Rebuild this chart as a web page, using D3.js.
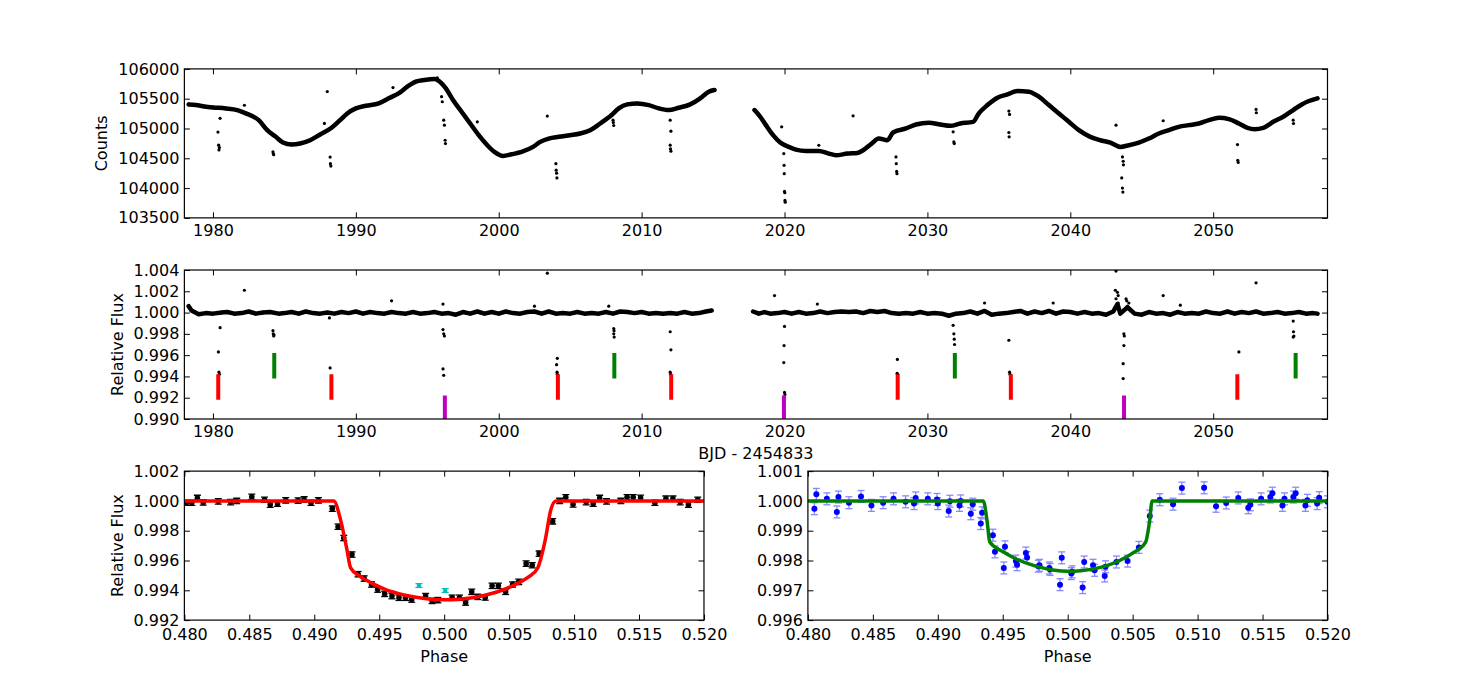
<!DOCTYPE html>
<html>
<head>
<meta charset="utf-8">
<script src="https://cdn.jsdelivr.net/npm/d3@7"></script>
<style>
  body { margin: 0; background: #fff; }
  svg { display: block; }
</style>
</head>
<body>
<div id="chart"></div>
<script>
// ---- data ----
// raw light curve (trend samples, [BJD-2454833, counts])
const countsSeg1 = [[1978.3,105404],[1978.8,105393],[1979.4,105370],[1980.0,105354],[1980.9,105337],[1981.7,105309],[1982.3,105253],
  [1983.2,105140],[1983.8,104972],[1984.4,104860],[1984.9,104764],[1985.5,104730],[1986.1,104747],[1986.8,104803],[1987.5,104899],
  [1988.3,105011],[1988.9,105140],[1989.4,105253],[1990.0,105337],[1990.7,105382],[1991.6,105421],[1992.3,105506],[1993.1,105607],
  [1993.6,105702],[1994.2,105787],[1994.8,105815],[1995.5,105831],[1996.0,105758],[1996.3,105674],[1996.8,105477],[1997.4,105281],
  [1998.0,105084],[1998.6,104888],[1999.2,104719],[1999.7,104607],[2000.3,104539],[2000.9,104567],[2001.6,104607],[2002.4,104691],
  [2002.9,104775],[2003.5,104831],[2004.2,104860],[2005.0,104888],[2005.7,104916],[2006.4,104972],[2007.1,105084],[2007.9,105225],
  [2008.4,105337],[2009.0,105404],[2009.7,105421],[2010.5,105393],[2011.2,105337],[2011.9,105309],[2012.6,105348],[2013.4,105404],
  [2014.1,105506],[2014.7,105618],[2015.1,105646]];
const countsSeg2 = [[2017.9,105309],[2018.3,105197],[2018.7,105056],[2019.2,104888],[2019.7,104764],[2020.3,104691],[2020.8,104646],
  [2021.5,104624],[2022.4,104624],[2023.1,104579],[2023.6,104551],[2024.4,104579],[2025.1,104590],[2025.5,104635],[2026.1,104747],
  [2026.6,104831],[2027.2,104803],[2027.6,104933],[2028.5,105000],[2029.2,105067],[2030.1,105096],[2030.9,105067],[2031.6,105045],
  [2032.3,105084],[2033.2,105112],[2033.6,105253],[2034.2,105393],[2034.9,105517],[2035.6,105573],[2036.3,105629],[2037.1,105618],
  [2037.8,105534],[2038.5,105393],[2039.2,105253],[2039.9,105112],[2040.6,104972],[2041.4,104860],[2042.1,104803],[2042.8,104764],
  [2043.5,104691],[2044.1,104719],[2044.8,104764],[2045.5,104831],[2046.2,104916],[2046.9,104972],[2047.6,105028],[2048.3,105056],
  [2049.0,105084],[2049.7,105140],[2050.4,105180],[2051.1,105157],[2051.8,105084],[2052.4,105011],[2052.9,104989],[2053.5,105011],
  [2054.2,105112],[2054.9,105197],[2055.6,105309],[2056.2,105404],[2056.7,105461],[2057.3,105506]];
// in-transit points and outliers of the raw light curve
const countsDips = [[1980.35,104940],[1980.4,104720],[1980.45,104680],[1980.42,104640],[1980.5,105170],[1982.2,105390],
  [1984.2,104610],[1984.22,104580],[1984.25,104560],[1988.0,105620],[1987.8,105085],[1988.2,104520],[1988.22,104410],[1988.25,104370],
  [1992.6,105686],[1995.7,105850],[1996.0,105534],[1996.05,105449],[1996.15,105140],[1996.2,105056],[1996.25,104803],[1996.27,104747],
  [1998.5,105112],[2003.4,105208],[2004.0,104410],[2004.02,104300],[2004.05,104250],[2004.07,104170],
  [2008.0,105140],[2008.02,105100],[2008.05,105050],[2012.0,105140],[2012.05,104955],[2012.0,104720],[2012.02,104660],[2012.05,104620],
  [2019.8,105028],[2019.95,104579],[2019.97,104382],[2019.98,104242],[2020.0,103944],[2020.02,103922],[2020.03,103792],[2020.05,103764],
  [2022.4,104719],[2024.8,105213],[2027.8,104523],[2027.82,104410],[2027.85,104280],[2027.87,104242],
  [2031.8,104944],[2031.85,104775],[2031.88,104747],[2035.7,105292],[2035.75,105236],[2035.7,104933],[2035.72,104860],
  [2043.2,105056],[2043.65,104523],[2043.7,104450],[2043.72,104390],[2043.6,104170],[2043.65,104000],[2043.68,103933],
  [2046.5,105130],[2051.7,104730],[2051.72,104466],[2051.75,104430],[2053.0,105320],[2053.02,105264],[2055.6,105140],[2055.62,105084]];

// detrended light curve ([BJD-2454833, relative flux])
const fluxSeg1 = [[1978.3,1.0006],[1978.5,1.0002],[1979.0,0.99985],[1979.5,0.99995],[1980.0,0.9999],[1980.6,1.0000],[1981.0,1.00005],
  [1981.5,0.9999],[1982.0,0.99995],[1982.5,1.0001],[1983.0,0.9999],[1983.5,1.0000],[1984.0,1.00005],[1984.6,0.9999],[1985.0,0.99995],
  [1985.5,1.00005],[1986.0,0.9999],[1986.5,1.0001],[1987.0,0.99995],[1987.5,0.9999],[1988.0,1.0000],[1988.5,0.9999],[1989.0,1.00005],
  [1989.5,0.99995],[1990.0,1.0001],[1990.5,0.9999],[1991.0,1.00005],[1991.5,0.99995],[1992.0,0.9999],[1992.5,1.00005],[1993.0,0.99995],
  [1993.5,0.9999],[1994.0,1.00005],[1994.5,0.9999],[1995.0,0.99995],[1995.5,1.00005],[1996.0,0.9999],[1996.5,0.99995],[1997.0,0.9998],
  [1997.5,1.00005],[1998.0,0.9999],[1998.5,1.0001],[1999.0,0.9999],[1999.5,1.00005],[2000.0,0.9999],[2000.5,1.0001],[2001.0,0.99995],
  [2001.5,0.9999],[2002.0,1.00005],[2002.5,1.0001],[2003.0,0.9999],[2003.5,1.0001],[2004.0,0.9999],[2004.5,0.99995],[2005.0,0.9999],
  [2005.5,1.00005],[2006.0,0.9999],[2006.5,0.99995],[2007.0,0.9999],[2007.5,1.00005],[2008.0,0.9999],[2008.5,1.0001],[2009.0,1.00005],
  [2009.5,0.99995],[2010.0,1.00005],[2010.5,0.9999],[2011.0,0.99995],[2011.5,0.9999],[2012.0,0.99995],[2012.5,0.9999],[2013.0,1.00005],
  [2013.5,0.9999],[2014.0,0.99995],[2014.5,1.0001],[2014.9,1.0002]];
const fluxSeg2 = [[2017.8,1.0001],[2018.2,0.9999],[2018.6,1.00005],[2019.0,0.9999],[2019.5,0.99995],[2020.0,1.00005],[2020.5,0.9999],
  [2021.0,1.00005],[2021.5,0.9999],[2022.0,0.99995],[2022.5,1.0001],[2023.0,0.99995],[2023.5,1.00005],[2024.0,1.0001],[2024.5,1.00005],
  [2025.0,1.0001],[2025.5,0.99995],[2026.0,1.00015],[2026.5,1.00005],[2027.0,1.00015],[2027.5,0.99995],[2028.0,0.9999],[2028.5,0.99995],
  [2029.0,0.9999],[2029.5,1.00005],[2030.0,0.9999],[2030.5,0.99995],[2031.0,0.9999],[2031.5,0.9997],[2032.0,0.9999],[2032.5,0.99995],
  [2033.0,1.0001],[2033.5,0.9999],[2034.0,1.00015],[2034.5,0.9998],[2035.0,0.9999],[2035.5,0.99995],[2036.0,1.00005],[2036.5,1.00015],
  [2037.0,0.9999],[2037.5,1.0001],[2038.0,0.99995],[2038.5,1.00015],[2039.0,0.9999],[2039.5,1.0001],[2040.0,1.00005],[2040.5,0.9999],
  [2041.0,1.00005],[2041.5,0.9999],[2042.0,0.99995],[2042.5,0.9998],[2043.0,1.0001],[2043.3,1.0008],[2043.5,0.9999],[2044.0,1.0005],
  [2044.5,0.9999],[2045.0,0.9998],[2045.5,1.00005],[2046.0,0.9999],[2046.5,0.99995],[2047.0,0.9998],[2047.5,1.00005],[2048.0,0.9999],
  [2048.5,0.99995],[2049.0,0.9999],[2049.5,1.0001],[2050.0,0.99995],[2050.5,0.9999],[2051.0,1.0001],[2051.5,0.9999],[2052.0,1.00005],
  [2052.5,0.99995],[2053.0,1.0001],[2053.5,0.9999],[2054.0,0.99995],[2054.5,1.00005],[2055.0,0.9999],[2055.5,0.99995],[2056.0,1.00005],
  [2056.5,0.9999],[2057.0,0.99995],[2057.3,0.9999]];
const fluxDips = [[1980.5,0.99858],[1980.38,0.9963],[1980.42,0.9944],[1980.45,0.9942],[1982.2,1.0021],
  [1984.2,0.9983],[1984.22,0.9980],[1984.25,0.9978],[1984.27,0.9979],[1988.2,0.9948],[1988.15,0.9995],[1992.5,1.0011],
  [1996.1,1.0008],[1996.1,0.9984],[1996.15,0.9980],[1996.2,0.9978],[1996.1,0.9947],[1996.15,0.9941],[2002.5,1.0006],[2003.4,1.0037],
  [2004.1,0.9957],[2004.05,0.9951],[2004.08,0.9944],[2004.1,0.9942],[2007.7,1.0006],
  [2008.05,0.9985],[2008.07,0.9983],[2008.05,0.9980],[2008.08,0.9977],[2012.0,0.9982],[2012.05,0.9965],[2012.0,0.9944],[2012.03,0.9942],
  [2019.3,1.0016],[2020.0,0.9987],[2019.97,0.9969],[2019.95,0.9953],[2020.0,0.9925],[2020.03,0.9923],[2022.3,1.0008],
  [2027.9,0.9956],[2027.88,0.9943],[2027.92,0.9942],[2031.8,0.9988],[2031.85,0.9980],[2031.88,0.9975],[2031.9,0.9970],[2034.0,1.0009],
  [2035.7,0.9974],[2035.75,0.9944],[2035.78,0.9942],[2038.8,1.0009],
  [2043.2,1.0039],[2043.15,1.0021],[2043.3,1.0019],[2043.35,1.0016],[2043.2,1.0013],[2043.35,1.0009],[2043.9,1.0013],[2043.95,1.0011],
  [2044.0,1.0006],[2043.75,0.9980],[2043.78,0.9978],[2043.75,0.9969],[2043.7,0.9952],[2043.7,0.9938],[2044.1,1.0009],
  [2046.5,1.0016],[2047.7,1.0007],[2051.8,0.9963],[2053.0,1.0028],[2055.6,0.9992],[2055.62,0.9982],[2055.65,0.9978],[2055.6,0.9977]];

// transit markers
const redTransits = [1980.37, 1988.29, 2004.14, 2012.07, 2027.92, 2035.84, 2051.69];
const greenTransits = [1984.29, 2008.09, 2031.92, 2055.77];
const magentaTransits = [1996.23, 2019.96, 2043.76];
const redBar = [0.9918, 0.9942], greenBar = [0.9938, 0.9962], magentaBar = [0.9900, 0.9922];

// folded transit of the inner planet ([phase, flux])
const foldRed = [[0.48016,0.99988],[0.48057,0.99988],[0.4810,1.0002],[0.48145,0.9999],[0.48261,0.99997],[0.48356,0.99992],
  [0.48403,1.0000],[0.48519,1.00028],[0.48617,1.00008],[0.48661,0.99975],[0.48717,0.99981],[0.4878,1.00004],[0.48875,1.00002],
  [0.48922,1.0001],[0.48975,0.99988],[0.49032,1.00004],[0.49139,0.99948],[0.49183,0.99827],[0.49227,0.99751],[0.4929,0.9964],
  [0.49337,0.99508],[0.49384,0.99479],[0.49441,0.99439],[0.49488,0.99405],[0.49542,0.99376],[0.49598,0.99361],[0.49652,0.9935],
  [0.49702,0.9935],[0.4975,0.99338],[0.49857,0.99361],[0.49907,0.99329],[0.49951,0.99334],[0.50061,0.9935],[0.50118,0.9935],
  [0.50165,0.99318],[0.50212,0.9939],[0.50259,0.99356],[0.50316,0.99352],[0.50369,0.9943],[0.50417,0.9943],[0.50473,0.9939],
  [0.50527,0.99439],[0.50574,0.99457],[0.50631,0.99579],[0.50678,0.99568],[0.50731,0.99646],[0.50835,0.99863],
  [0.50889,1.0000],[0.50936,1.00024],[0.50992,0.99977],[0.51093,0.99992],[0.51147,0.99981],[0.51197,1.0002],[0.5125,0.99997],
  [0.5136,1.0000],[0.51408,1.00024],[0.51455,1.00024],[0.51512,1.00021],[0.51622,0.99988],[0.51707,1.00015],[0.51761,1.00015],
  [0.51817,0.99992],[0.5188,0.99975],[0.51952,1.00008]];
const foldRedErr = 0.00018;
const foldCyan = [[0.49806,0.99432],[0.50008,0.99399]];
const modelRed = [[0.480,1.0],[0.4915,1.0],[0.4920,0.99881],[0.4925,0.99680],[0.4928,0.99550],[0.4935,0.99495],[0.4945,0.99445],
  [0.4955,0.99405],[0.4965,0.99378],[0.4975,0.99358],[0.4985,0.99345],[0.4995,0.99337],[0.5005,0.99337],[0.5015,0.99343],
  [0.5025,0.99355],[0.5035,0.99375],[0.5045,0.99402],[0.5055,0.9944],[0.5065,0.9949],[0.5072,0.9955],[0.5078,0.99747],
  [0.5082,0.99937],[0.5086,1.0],[0.520,1.0]];

// folded transit of the outer planet
const foldBlue = [[0.4805,0.99974],[0.48065,1.00022],[0.48146,1.00007],[0.48223,0.99963],[0.48235,1.00013],[0.48316,0.99994],
  [0.48409,1.00015],[0.48489,0.99985],[0.48579,0.99994],[0.48659,1.00007],[0.48752,0.99997],[0.48817,0.99991],[0.4883,1.0001],
  [0.48923,1.00007],[0.48994,1.00005],[0.49,0.99991],[0.49084,0.99966],[0.49093,0.99999],[0.49167,0.99985],[0.49176,1.0],
  [0.49254,0.99957],[0.49269,0.99989],[0.49331,0.99924],[0.49341,0.9996],[0.49424,0.99885],[0.4944,0.99829],[0.49508,0.99775],
  [0.49517,0.99846],[0.49601,0.99798],[0.4961,0.99786],[0.49678,0.99825],[0.49687,0.9981],[0.49774,0.99781],[0.49783,0.99784],
  [0.49858,0.99775],[0.49864,0.9977],[0.49941,0.99719],[0.49954,0.99809],[0.50028,0.99756],[0.50034,0.99762],[0.50115,0.99709],
  [0.50127,0.99795],[0.50195,0.99784],[0.50207,0.99767],[0.50285,0.99748],[0.50291,0.99779],[0.50375,0.99795],[0.50461,0.99798],
  [0.50548,0.99844],[0.50632,0.99949],[0.50709,1.00004],[0.50811,0.99989],[0.50879,1.00043],[0.5105,1.00044],[0.51142,0.99982],
  [0.5122,0.99993],[0.51313,1.0001],[0.5139,0.99977],[0.51406,0.99987],[0.51489,1.00007],[0.5156,1.00013],[0.51576,1.00026],
  [0.51653,0.99985],[0.51669,1.00007],[0.51737,1.00013],[0.51755,1.00026],[0.5183,0.99985],[0.51845,1.00002],[0.5192,0.99991],
  [0.51936,1.00011],[0.52,0.99997]];
const foldBlueErr = 0.0002;
const modelGreen = [[0.480,1.0],[0.4935,1.0],[0.4938,0.99930],[0.4940,0.99862],[0.4950,0.99830],[0.4960,0.99806],[0.4970,0.99789],
  [0.4980,0.99776],[0.4990,0.99767],[0.5000,0.99764],[0.5010,0.99766],[0.5020,0.99772],[0.5030,0.99783],[0.5040,0.99800],
  [0.5050,0.99825],[0.5060,0.99862],[0.5063,0.99930],[0.5065,1.0],[0.520,1.0]];

// tick values
const timeTicks = [1980, 1990, 2000, 2010, 2020, 2030, 2040, 2050];
const countsTicks = [103500, 104000, 104500, 105000, 105500, 106000];
const fluxTicks = [0.990, 0.992, 0.994, 0.996, 0.998, 1.000, 1.002, 1.004];
const phaseTicks = [0.480, 0.485, 0.490, 0.495, 0.500, 0.505, 0.510, 0.515, 0.520];
const foldRedTicks = [0.992, 0.994, 0.996, 0.998, 1.000, 1.002];
const foldBlueTicks = [0.996, 0.997, 0.998, 0.999, 1.000, 1.001];

// ---- layout (matplotlib-like subplot grid) ----
const W = 1475, H = 689;
const padL = 0.125 * W, padR = 0.9 * W, padT = 0.1 * H, padB = 0.9 * H;
const rowH = (padB - padT) / 3.7, rowGap = rowH * 0.35;
const colW = (padR - padL) / 2.2, colGap = colW * 0.2;
const fullW = padR - padL;
const font = "DejaVu Sans";
const tick = 5.5;

const svg = d3.select("#chart").append("svg")
  .attr("width", W).attr("height", H)
  .style("font-family", font);

let clipId = 0;
function panel(x0, y0, w, h, x, y, xt, xf, yt, yf, xPad) {
  const g = svg.append("g").attr("transform", `translate(${x0},${y0})`);
  const style = s => {
    s.select(".domain").remove();
    s.attr("font-family", font).attr("font-size", 16);
    s.selectAll("text").attr("fill", "#000");
    s.selectAll("line").attr("stroke", "#000").attr("stroke-width", 1);
  };
  g.append("g").attr("transform", `translate(0,${h})`)
    .call(d3.axisBottom(x).tickValues(xt).tickFormat(xf).tickSize(-tick).tickPadding(xPad)).call(style);
  g.append("g")
    .call(d3.axisTop(x).tickValues(xt).tickFormat("").tickSize(-tick)).call(style);
  g.append("g")
    .call(d3.axisLeft(y).tickValues(yt).tickFormat(yf).tickSize(-tick).tickPadding(5)).call(style);
  g.append("g").attr("transform", `translate(${w},0)`)
    .call(d3.axisRight(y).tickValues(yt).tickFormat("").tickSize(-tick)).call(style);
  const id = "clip" + (clipId++);
  g.append("clipPath").attr("id", id).append("rect").attr("width", w).attr("height", h);
  const plot = g.append("g").attr("clip-path", `url(#${id})`);
  g.append("rect").attr("width", w).attr("height", h)
    .attr("fill", "none").attr("stroke", "#000").attr("stroke-width", 1.2);
  return { g, plot };
}

function ylabel(g, xPos, h, text) {
  g.append("text")
    .attr("transform", `translate(${xPos},${h / 2}) rotate(-90)`)
    .attr("text-anchor", "middle").attr("dy", "0.35em")
    .attr("font-size", 16).text(text);
}

function dots(plot, data, x, y, r, color) {
  plot.append("g").selectAll("circle").data(data).join("circle")
    .attr("cx", d => x(d[0])).attr("cy", d => y(d[1])).attr("r", r).attr("fill", color);
}

function errorbars(plot, data, err, x, y, color, opacity) {
  const g = plot.append("g").attr("stroke", color).attr("stroke-width", 1.3).attr("opacity", opacity);
  data.forEach(d => {
    const cx = x(d[0]), y1 = y(d[1] - err), y2 = y(d[1] + err);
    g.append("line").attr("x1", cx).attr("x2", cx).attr("y1", y1).attr("y2", y2);
    g.append("line").attr("x1", cx - 3.5).attr("x2", cx + 3.5).attr("y1", y1).attr("y2", y1);
    g.append("line").attr("x1", cx - 3.5).attr("x2", cx + 3.5).attr("y1", y2).attr("y2", y2);
  });
}

// ---- top: raw counts ----
{
  const x = d3.scaleLinear().domain([1978, 2058]).range([0, fullW]);
  const y = d3.scaleLinear().domain([103500, 106000]).range([rowH, 0]);
  const p = panel(padL, padT, fullW, rowH, x, y, timeTicks, d3.format("d"), countsTicks, d3.format("d"), 7);
  [countsSeg1, countsSeg2].forEach(seg => {
    p.plot.append("path").datum(seg)
      .attr("d", d3.line().x(d => x(d[0])).y(d => y(d[1])).curve(d3.curveMonotoneX))
      .attr("fill", "none").attr("stroke", "#000").attr("stroke-width", 4.5)
      .attr("stroke-linecap", "round");
    dots(p.plot, seg, x, y, 1.8, "#000");
  });
  dots(p.plot, countsDips, x, y, 1.6, "#000");
  ylabel(p.g, 101.7 - padL, rowH, "Counts");
}

// ---- middle: detrended flux ----
{
  const y0 = padT + rowH + rowGap;
  const x = d3.scaleLinear().domain([1978, 2058]).range([0, fullW]);
  const y = d3.scaleLinear().domain([0.990, 1.004]).range([rowH, 0]);
  const p = panel(padL, y0, fullW, rowH, x, y, timeTicks, d3.format("d"), fluxTicks, d3.format(".3f"), 7);
  [fluxSeg1, fluxSeg2].forEach(seg => {
    p.plot.append("path").datum(seg)
      .attr("d", d3.line().x(d => x(d[0])).y(d => y(d[1])))
      .attr("fill", "none").attr("stroke", "#000").attr("stroke-width", 4.5)
      .attr("stroke-linejoin", "round").attr("stroke-linecap", "round");
    dots(p.plot, seg, x, y, 1.8, "#000");
  });
  dots(p.plot, fluxDips, x, y, 1.6, "#000");
  const bars = (times, range, color) => p.plot.append("g").selectAll("line").data(times).join("line")
    .attr("x1", d => x(d)).attr("x2", d => x(d))
    .attr("y1", y(range[0])).attr("y2", y(range[1]))
    .attr("stroke", color).attr("stroke-width", 4);
  bars(redTransits, redBar, "#ff0000");
  bars(greenTransits, greenBar, "#008000");
  bars(magentaTransits, magentaBar, "#bf00bf");
  ylabel(p.g, 117 - padL, rowH, "Relative Flux");
  p.g.append("text").attr("x", fullW / 2).attr("y", rowH + 40)
    .attr("text-anchor", "middle").attr("font-size", 16).text("BJD - 2454833");
}

// ---- bottom left: folded inner planet ----
{
  const y0 = padT + 2 * (rowH + rowGap);
  const x = d3.scaleLinear().domain([0.48, 0.52]).range([0, colW]);
  const y = d3.scaleLinear().domain([0.992, 1.002]).range([rowH, 0]);
  const p = panel(padL, y0, colW, rowH, x, y, phaseTicks, d3.format(".3f"), foldRedTicks, d3.format(".3f"), 8.5);
  errorbars(p.plot, foldRed, foldRedErr, x, y, "#000", 1);
  dots(p.plot, foldRed, x, y, 2.8, "#000");
  errorbars(p.plot, foldCyan, foldRedErr * 0.7, x, y, "#00bfbf", 1);
  dots(p.plot, foldCyan, x, y, 2.2, "#00bfbf");
  p.plot.append("path").datum(modelRed)
    .attr("d", d3.line().x(d => x(d[0])).y(d => y(d[1])).curve(d3.curveMonotoneX))
    .attr("fill", "none").attr("stroke", "#ff0000").attr("stroke-width", 3.5);
  ylabel(p.g, 117 - padL, rowH, "Relative Flux");
  p.g.append("text").attr("x", colW / 2).attr("y", rowH + 42)
    .attr("text-anchor", "middle").attr("font-size", 16).text("Phase");
}

// ---- bottom right: folded outer planet ----
{
  const y0 = padT + 2 * (rowH + rowGap);
  const x0 = padL + colW + colGap;
  const x = d3.scaleLinear().domain([0.48, 0.52]).range([0, colW]);
  const y = d3.scaleLinear().domain([0.996, 1.001]).range([rowH, 0]);
  const p = panel(x0, y0, colW, rowH, x, y, phaseTicks, d3.format(".3f"), foldBlueTicks, d3.format(".3f"), 8.5);
  errorbars(p.plot, foldBlue, foldBlueErr, x, y, "#3a3aff", 0.6);
  dots(p.plot, foldBlue, x, y, 3, "#0000ff");
  p.plot.append("path").datum(modelGreen)
    .attr("d", d3.line().x(d => x(d[0])).y(d => y(d[1])).curve(d3.curveMonotoneX))
    .attr("fill", "none").attr("stroke", "#008000").attr("stroke-width", 3.5);
  p.g.append("text").attr("x", colW / 2).attr("y", rowH + 42)
    .attr("text-anchor", "middle").attr("font-size", 16).text("Phase");
}
</script>
</body>
</html>
